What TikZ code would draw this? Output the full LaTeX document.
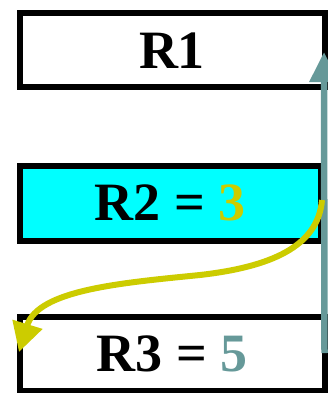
\documentclass[tikz,border=0pt]{standalone}
\usepackage{fontspec}
\setmainfont{Liberation Serif}
\usetikzlibrary{arrows.meta}
\definecolor{tealc}{RGB}{102,153,153}
\definecolor{yelc}{RGB}{204,204,0}
\definecolor{cyanc}{RGB}{0,255,255}
\tikzset{
  reg/.style={draw=black, line width=6pt, inner sep=0pt, fill=white,
    font=\fontsize{54}{60}\selectfont\bfseries},
}
\begin{document}
\begin{tikzpicture}[x=1pt,y=-1pt]
\useasboundingbox (0,0) rectangle (327,393);
\node[reg, minimum width=305pt, minimum height=74pt] (R1) at (172,50.5) {R1};
\node[reg, fill=cyanc, minimum width=301pt, minimum height=75pt] (R2) at (170,203) {R2 = \textcolor{yelc}{3}};
\node[reg, minimum width=305pt, minimum height=74pt] (R3) at (172,353.5) {R3 = \textcolor{tealc}{5}};
\coordinate (tb) at (324.5,353);
\coordinate (tt) at (324,52);
\draw[tealc, line width=6.5pt, -{Triangle[length=30pt,width=28pt]}] (tb) -- (tt);
\coordinate (ys) at (322,200);
\coordinate (ye) at (19,352);
\draw[yelc, line width=6pt, -{Triangle[length=29pt,width=30pt]}] (ys) .. controls (318,247) and (270,267) .. (200,275) .. controls (120,283) and (38,290) .. (ye);
\end{tikzpicture}
\end{document}
